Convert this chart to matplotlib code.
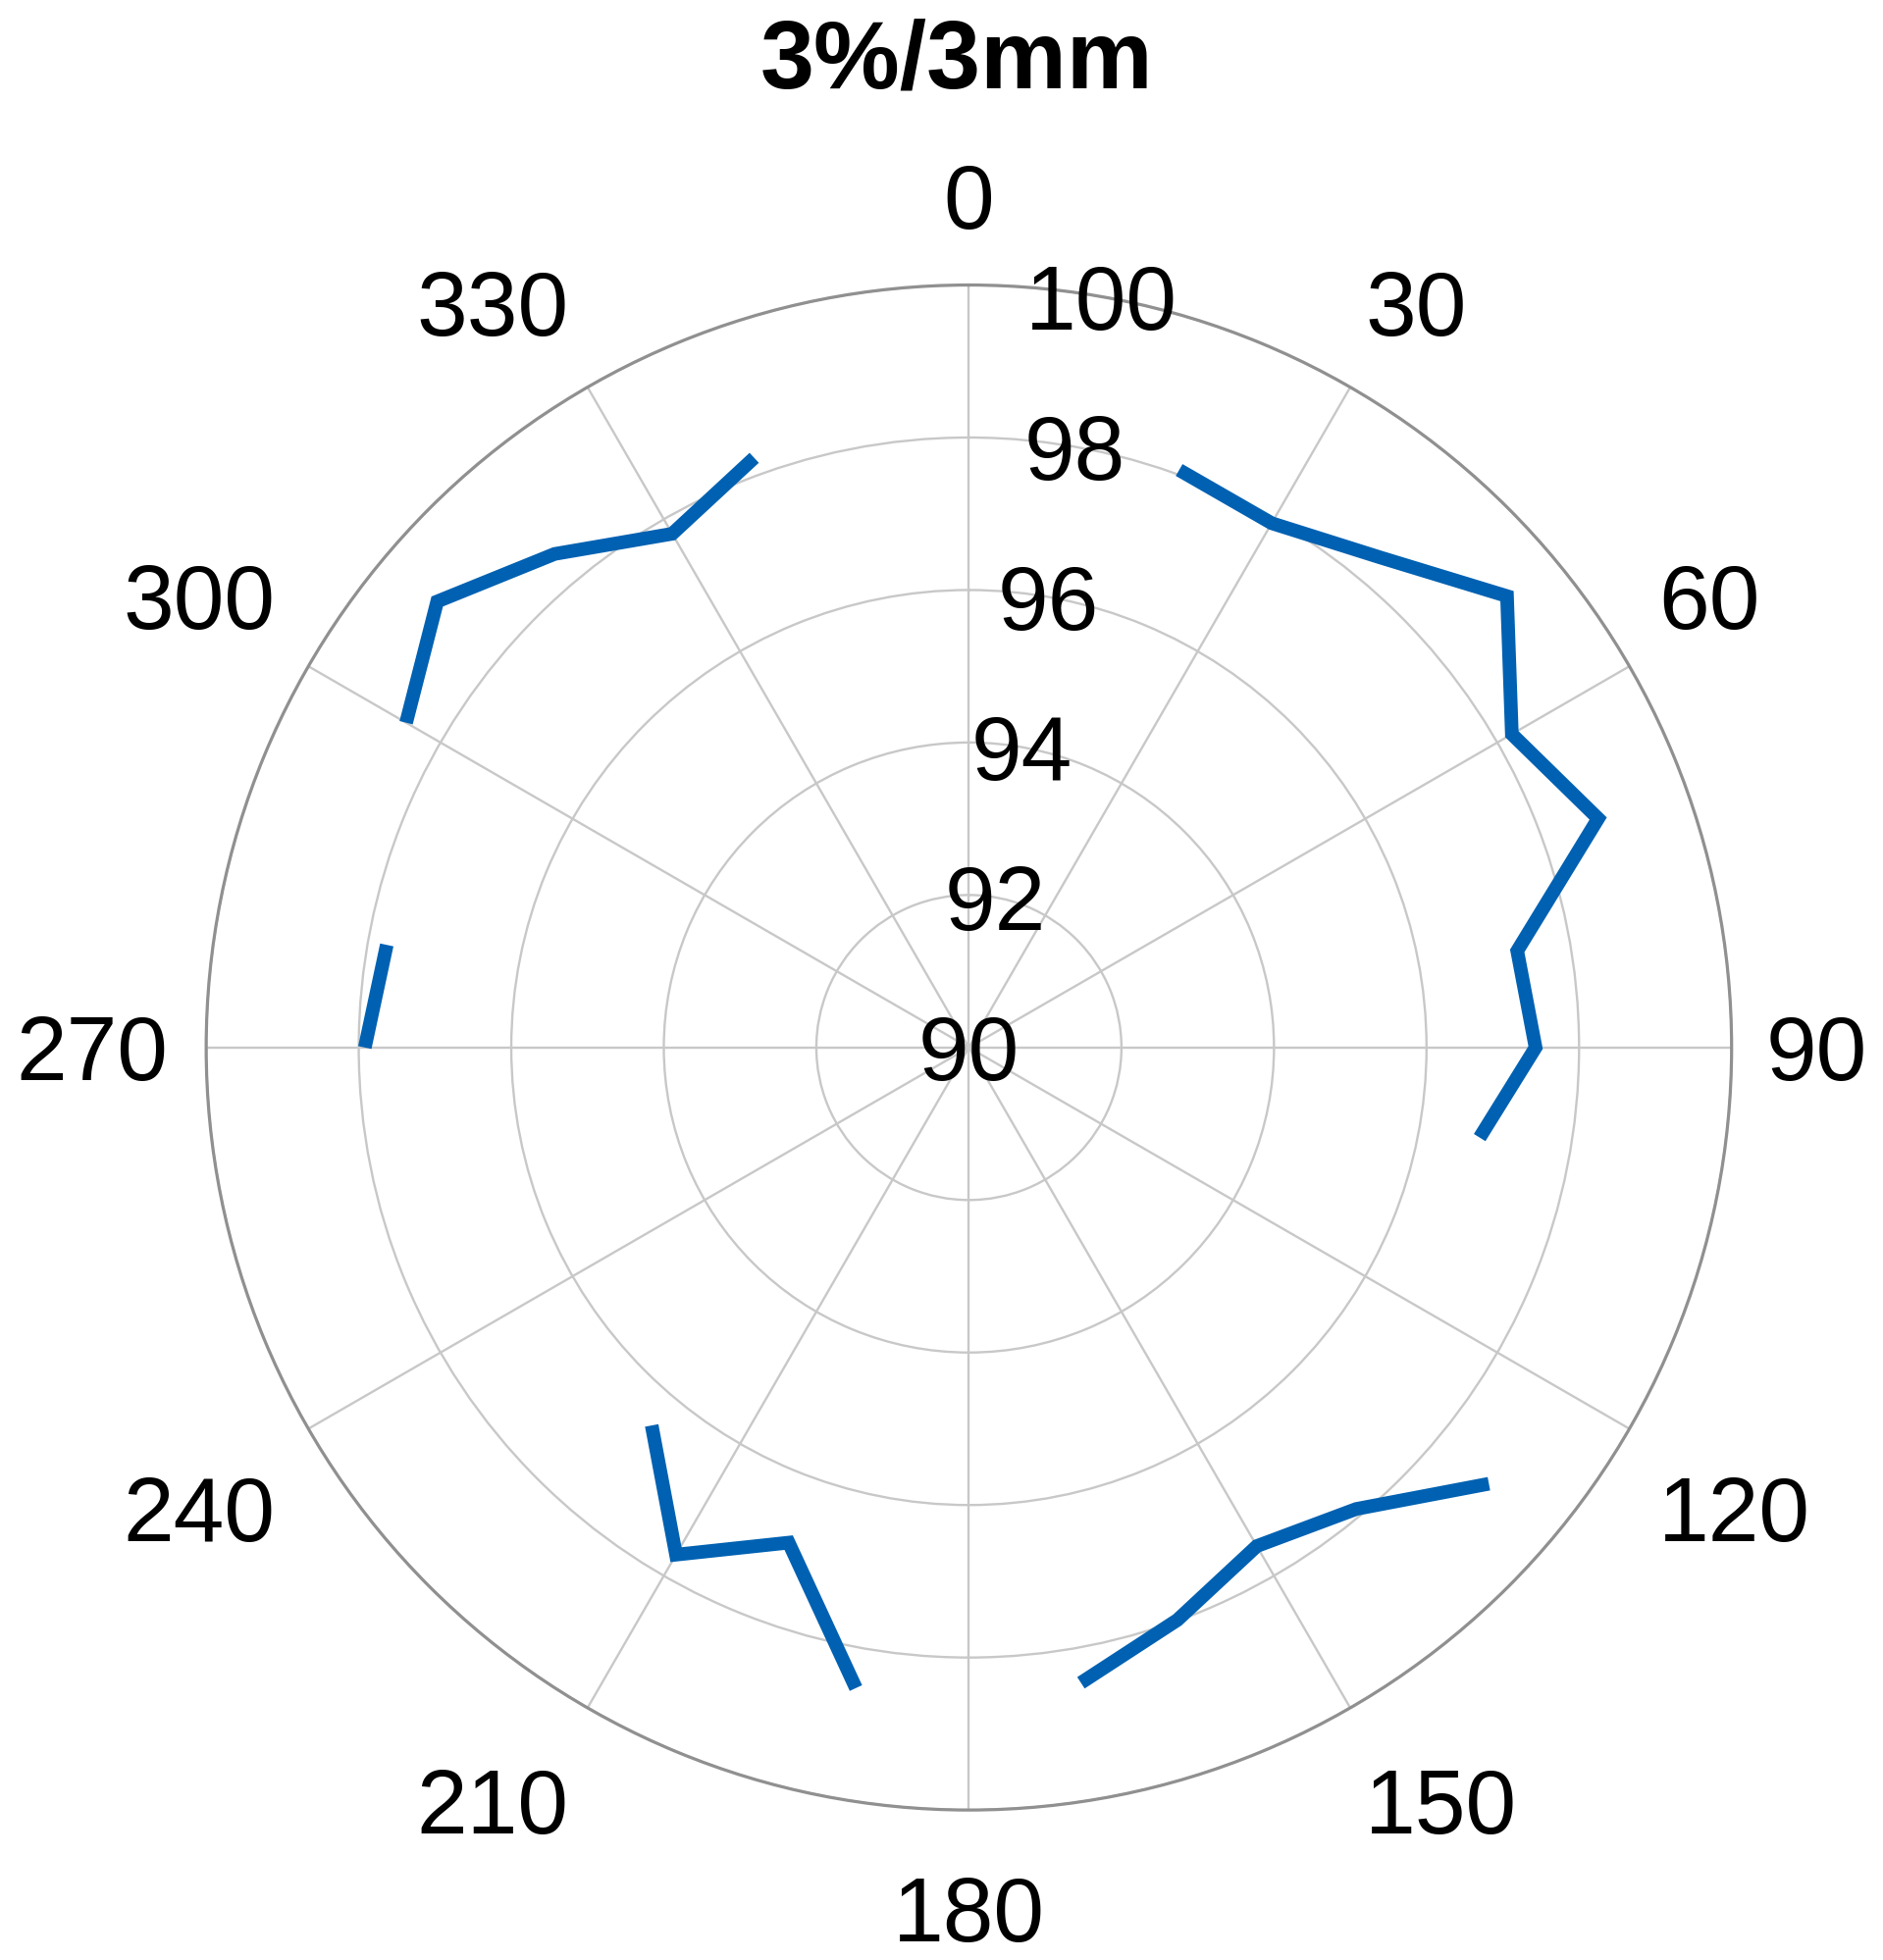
import numpy as np
import matplotlib
matplotlib.use("Agg")
import matplotlib.pyplot as plt
from matplotlib.transforms import offset_copy

plt.rcParams['font.family'] = ['Liberation Sans', 'DejaVu Sans']

# gantry angle (deg) and gamma pass rate (%), gaps where no beam
theta_deg = np.arange(0, 360, 10)
pass_rate = [np.nan, np.nan, 98.06, 97.94, 98.39, 99.21, 98.22, 98.78, 97.30, 97.43,
             96.80, np.nan, np.nan, 98.90, 97.90, 97.55, 97.99, 98.46, np.nan, 98.53,
             96.91, 97.68, 96.47, np.nan, np.nan, np.nan, np.nan, 97.92, 97.75, np.nan,
             98.52, 99.10, 98.45, 97.78, 98.23, np.nan]

theta_ticks = np.arange(0, 360, 30)
r_ticks = [90, 92, 94, 96, 98, 100]
title = "3%/3mm"

fig = plt.figure(figsize=(19.19, 19.98), dpi=100)
ax = fig.add_axes([0.1095, 0.0765, 0.8101, 0.7781], projection='polar')
ax.set_theta_zero_location('N')
ax.set_theta_direction(-1)
ax.set_ylim(90, 100)

ax.plot(np.deg2rad(theta_deg), pass_rate, color='#0061B2', linewidth=10,
        solid_capstyle='butt', solid_joinstyle='miter')

ax.set_xticks(np.deg2rad(theta_ticks))
ax.set_xticklabels([])
ax.set_yticks(r_ticks)
ax.set_yticklabels([])
ax.grid(True, color='#c8c8c8', linewidth=1.7)
ax.spines['polar'].set_color('#909090')
ax.spines['polar'].set_linewidth(2.3)

fs = 67
r_anchor = 100.5  # labels sit just outside the outer ring, edge-anchored like MATLAB
for t in theta_ticks:
    s, c = np.sin(np.deg2rad(t)), np.cos(np.deg2rad(t))
    ha = 'left' if s > 0.01 else ('right' if s < -0.01 else 'center')
    va = 'bottom' if c > 0.01 else ('top' if c < -0.01 else 'center_baseline')
    dx = -3 if ha == 'left' else 0
    dy = -20 if va == 'top' else 0
    tr = offset_copy(ax.transData, fig=fig, x=dx, y=dy, units='points')
    ax.text(np.deg2rad(t), r_anchor, str(t), ha=ha, va=va, fontsize=fs,
            transform=tr, clip_on=False)
for r in r_ticks:
    ax.text(np.deg2rad(10), r, str(r), ha='center', va='center_baseline',
            fontsize=fs, clip_on=False)

fig.text(0.508, 0.955, title, ha='center', va='baseline', fontsize=71,
         fontweight='bold')

fig.savefig('out.png', dpi=100)
